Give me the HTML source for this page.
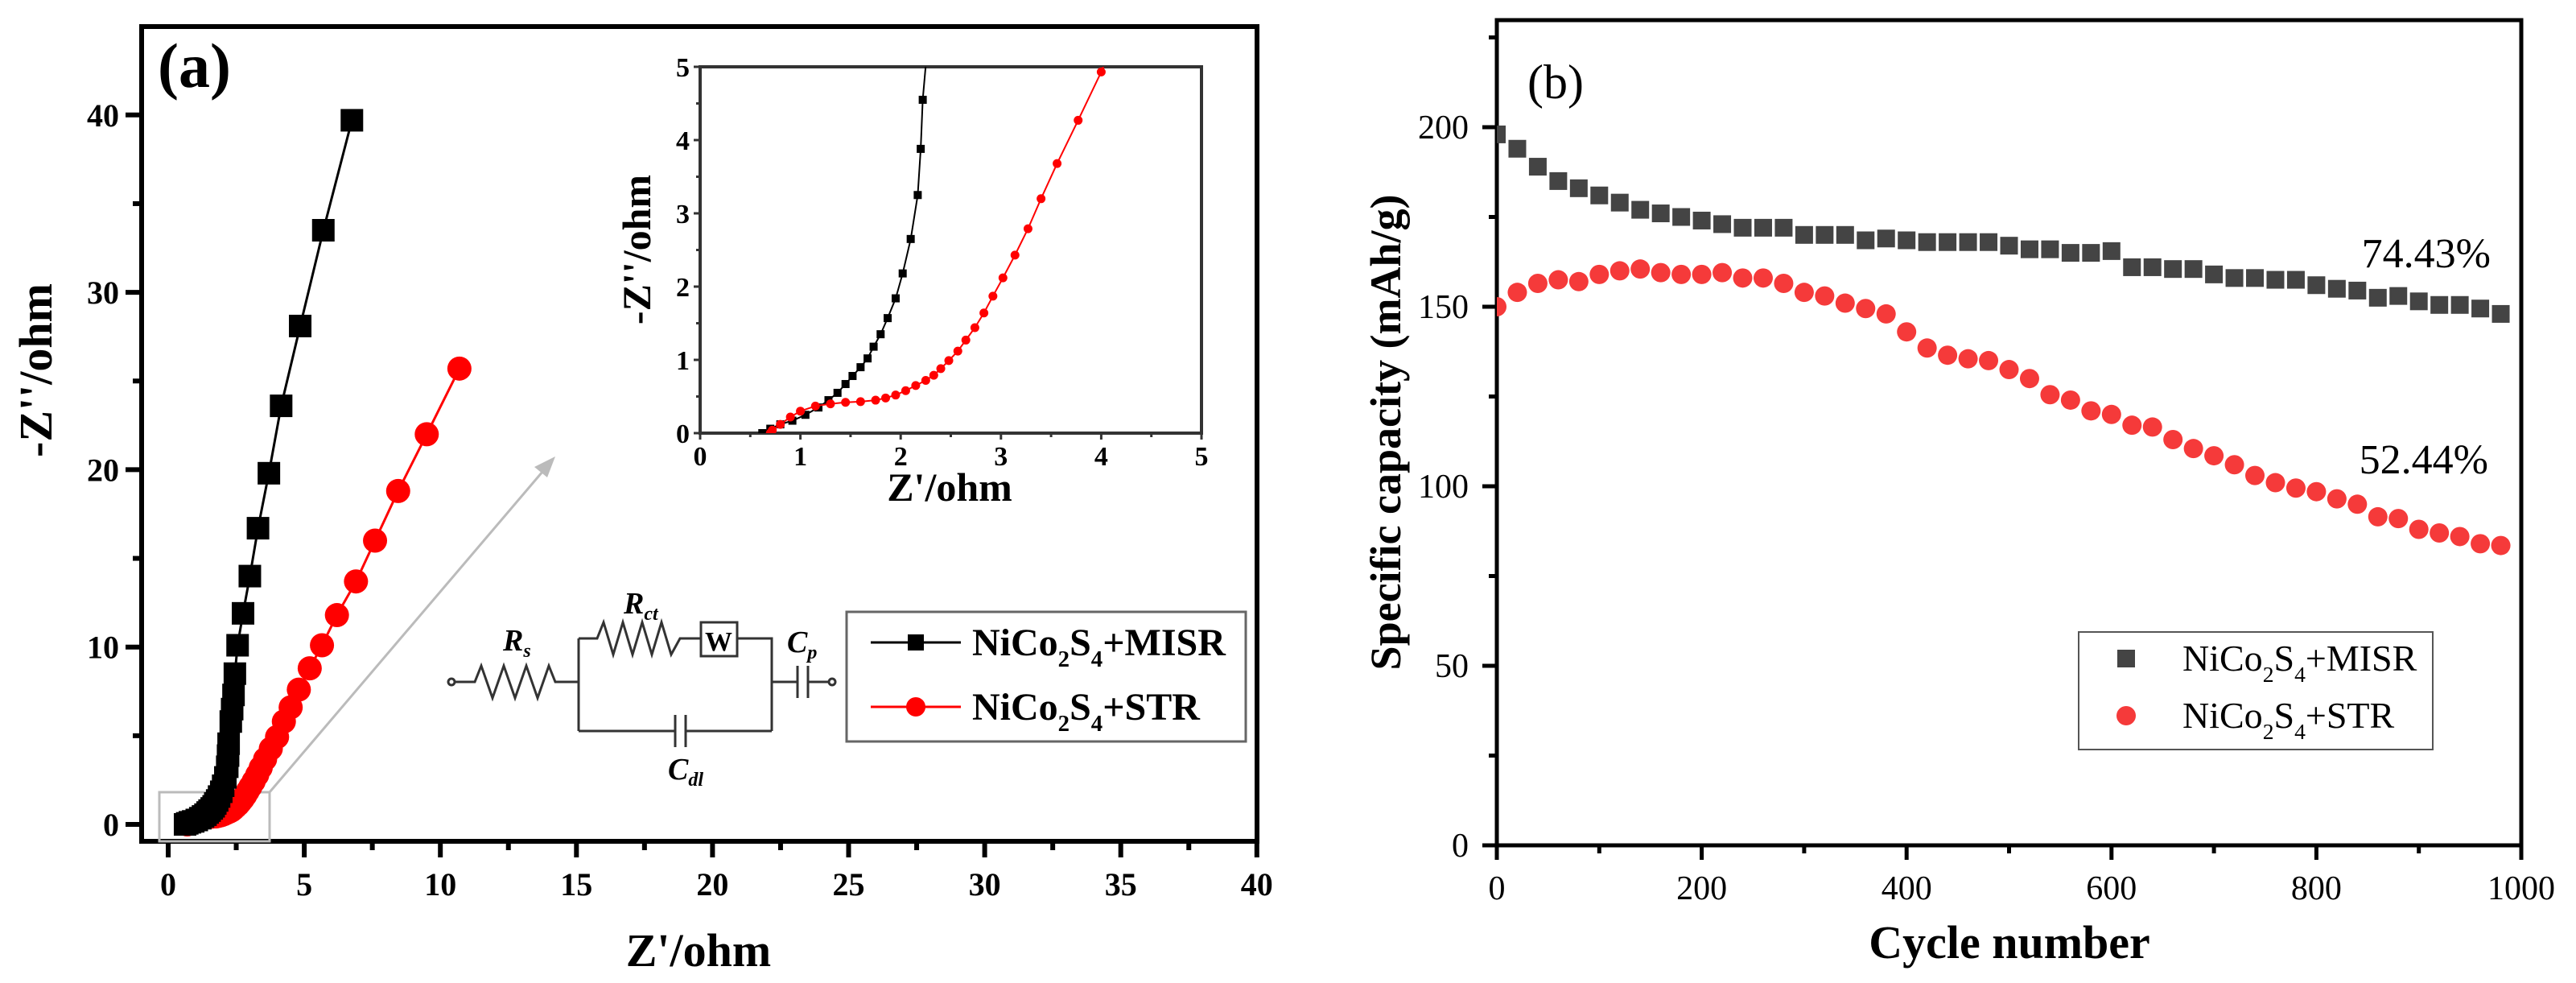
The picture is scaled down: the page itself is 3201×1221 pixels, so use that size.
<!DOCTYPE html>
<html><head><meta charset="utf-8"><style>
html,body{margin:0;padding:0;background:#fff;}
svg{display:block;}
text{font-family:"Liberation Serif",serif;}
</style></head><body>
<svg id="fig" width="3201" height="1221" viewBox="0 0 3201 1221" xmlns="http://www.w3.org/2000/svg">
<defs>
<clipPath id="clipA"><rect x="176" y="33" width="1386" height="1012"/></clipPath>
<clipPath id="clipI"><rect x="870" y="83" width="623" height="455"/></clipPath>
<clipPath id="clipB"><rect x="1860" y="25" width="1273" height="1025"/></clipPath>
</defs>
<g id="panelA"></g>
<g id="panelB"></g>
</svg>
<script>
// ---- Panel A data (Nyquist) ----
const aBlackX=[0.62,0.7,0.8,0.92,1.05,1.18,1.28,1.37,1.45,1.52,1.6,1.67,1.73,1.8,1.87,1.95,2.02,2.1,2.17,2.2,2.22,2.3,2.35,2.4,2.45,2.55,2.75,3.0,3.3,3.7,4.15,4.85,5.7,6.75];
const aBlackY=[0.0,0.06,0.12,0.17,0.25,0.35,0.45,0.55,0.67,0.78,0.9,1.02,1.18,1.35,1.57,1.84,2.18,2.65,3.25,3.88,4.55,5.8,6.5,7.3,8.5,10.1,11.9,14.0,16.7,19.8,23.6,28.1,33.5,39.7];
const aRedX=[0.7,0.72,0.8,0.9,1.0,1.15,1.3,1.45,1.6,1.75,1.85,1.95,2.05,2.15,2.25,2.33,2.4,2.48,2.57,2.65,2.74,2.83,2.92,3.02,3.14,3.27,3.4,3.56,3.77,4.0,4.25,4.5,4.8,5.2,5.65,6.2,6.9,7.6,8.45,9.5,10.7];
const aRedY=[0.0,0.04,0.12,0.22,0.3,0.37,0.4,0.42,0.43,0.45,0.48,0.52,0.58,0.65,0.72,0.79,0.88,0.99,1.12,1.27,1.44,1.64,1.87,2.12,2.43,2.79,3.2,3.68,4.27,4.93,5.8,6.6,7.6,8.8,10.1,11.8,13.7,16.0,18.8,22.0,25.7];
const aXTicks=[0,5,10,15,20,25,30,35,40];
const aYTicks=[0,10,20,30,40];
const iTicks=[0,1,2,3,4,5];
// ---- Panel B data (cycling) ----
const bCycles=[0,20,40,60,80,100,120,140,160,180,200,220,240,260,280,300,320,340,360,380,400,420,440,460,480,500,520,540,560,580,600,620,640,660,680,700,720,740,760,780,800,820,840,860,880,900,920,940,960,980];
const bMISR=[198,194,189,185,183,181,179,177,176,175,174,173,172,172,172,170,170,170,168.5,169,168.5,168,168,168,168,167,166,166,165,165,165.5,161,161,160.5,160.5,159,158,158,157.5,157.5,156,155,154.5,152.5,153,151.5,150.5,150.5,149.5,148];
const bSTR=[150,154,156.5,157.5,157,159,160,160.5,159.5,159,159,159.5,158,158,156.5,154,153,151,149.5,148,143,138.5,136.5,135.5,135,132.5,130,125.5,124,121,120,117,116.5,113,110.5,108.5,106,103,101,99.5,98.5,96.5,95,91.5,91,88,87,86,84,83.5];
const bXTicks=[0,200,400,600,800,1000];
const bYTicks=[0,50,100,150,200];

const NS="http://www.w3.org/2000/svg";
function mk(parent,tag,attrs,txt){const e=document.createElementNS(NS,tag);for(const k in attrs)e.setAttribute(k,attrs[k]);if(txt!==undefined)e.textContent=txt;parent.appendChild(e);return e;}

// axis functions
const ax=x=>209+x*33.82, ay=y=>1024-y*22.03;
const ix=x=>870+x*124.6, iy=y=>538-y*91;
const bx=c=>1860+c*1.273, by=v=>1050-v*4.46;

const A=document.getElementById('panelA');
// frame A
let e=mk(A,'rect',{x:176,y:33,width:1386,height:1012,fill:'none',stroke:'#000','stroke-width':6});


for(let v=0;v<=40;v+=2.5){const major=(v%5===0);
 e=mk(A,'line',{x1:ax(v),x2:ax(v),y1:1045,y2:1045+(major?20:11),stroke:'#000','stroke-width':6});
 
 }
for(let v=0;v<=40;v+=5){const major=(v%10===0);
 e=mk(A,'line',{x1:176,x2:176-(major?20:11),y1:ay(v),y2:ay(v),stroke:'#000','stroke-width':6});
 
 }
aXTicks.forEach(v=>{e=mk(A,'text',{x:ax(v),y:1112,'text-anchor':'middle','font-size':40,'font-weight':'bold'},String(v));
 
 });
aYTicks.forEach(v=>{e=mk(A,'text',{x:148,y:ay(v)+14,'text-anchor':'end','font-size':40,'font-weight':'bold'},String(v));
 
 });
e=mk(A,'text',{x:868,y:1200,'text-anchor':'middle','font-size':58,'font-weight':'bold'},"Z'/ohm");


e=mk(A,'text',{x:0,y:0,transform:'translate(64,460) rotate(-90)','text-anchor':'middle','font-size':58,'font-weight':'bold'},"-Z''/ohm");


e=mk(A,'text',{x:196,y:108,'font-size':78,'font-weight':'bold'},"(a)");


// zoom box and arrow
e=mk(A,'rect',{x:198,y:984,width:137,height:61,fill:'none',stroke:'#bbb','stroke-width':3});


e=mk(A,'line',{x1:335,y1:984,x2:680,y2:579,stroke:'#bbb','stroke-width':3});


e=mk(A,'polygon',{points:'690,567 664,580 680,593',fill:'#bbb'});



const gA=mk(A,'g',{'clip-path':'url(#clipA)'});


function series(g,xs,ys,fx,fy,color,lw,shape,sz,name){
 let pts=xs.map((x,i)=>fx(x).toFixed(1)+','+fy(ys[i]).toFixed(1)).join(' ');
 let l=mk(g,'polyline',{points:pts,fill:'none',stroke:color,'stroke-width':lw});
 
 
 xs.forEach((x,i)=>{let m;
  if(shape==='sq') m=mk(g,'rect',{x:fx(x)-sz/2,y:fy(ys[i])-sz/2,width:sz,height:sz,fill:color});
  else m=mk(g,'circle',{cx:fx(x),cy:fy(ys[i]),r:sz/2,fill:color});
  
  });
}
series(gA,aRedX,aRedY,ax,ay,'#ff0000',3,'ci',30,'str-series');
series(gA,aBlackX,aBlackY,ax,ay,'#000',3,'sq',28,'misr-series');

// inset
const I=mk(A,'g',{});


e=mk(I,'rect',{x:870,y:83,width:623,height:455,fill:'#fff',stroke:'#333','stroke-width':4});


for(let v=0;v<=5;v+=0.5){const major=(Math.abs(v%1)<1e-9);
 e=mk(I,'line',{x1:ix(v),x2:ix(v),y1:538,y2:538+(major?8:5),stroke:'#333','stroke-width':3});
 
 
 e=mk(I,'line',{x1:870,x2:870-(major?8:5),y1:iy(v),y2:iy(v),stroke:'#333','stroke-width':3});
 
 }
iTicks.forEach(v=>{e=mk(I,'text',{x:ix(v),y:578,'text-anchor':'middle','font-size':34,'font-weight':'bold'},String(v));
 
 
 e=mk(I,'text',{x:857,y:iy(v)+12,'text-anchor':'end','font-size':34,'font-weight':'bold'},String(v));
 
 });
e=mk(I,'text',{x:1180,y:622,'text-anchor':'middle','font-size':50,'font-weight':'bold'},"Z'/ohm");


e=mk(I,'text',{x:0,y:0,transform:'translate(808,310) rotate(-90)','text-anchor':'middle','font-size':50,'font-weight':'bold'},"-Z''/ohm");


const gI=mk(I,'g',{'clip-path':'url(#clipI)'});


series(gI,aBlackX,aBlackY,ix,iy,'#000',2,'sq',10,'inset-misr');
series(gI,aRedX,aRedY,ix,iy,'#ff0000',2,'ci',11,'inset-str');

// circuit
const C=mk(A,'g',{fill:'none',stroke:'#333','stroke-width':3});


e=mk(C,'path',{d:'M565,847 H590 L598,827 L612,867 L626,827 L640,867 L654,827 L668,867 L682,827 L690,847 H719 M719,793 V908 M719,793 H742 L750,773 L762,813 L774,773 L786,813 L798,773 L810,813 L822,773 L834,813 L845,793 H871 M916,793 H959 V908 M719,908 H839 M852,908 H959 M959,847 H991 M1004,847 H1030'});


e=mk(C,'rect',{x:871,y:773,width:45,height:42});


e=mk(C,'path',{d:'M839,888 V928 M852,888 V928 M991,827 V867 M1004,827 V867'});


e=mk(C,'circle',{cx:561,cy:847,r:4});


e=mk(C,'circle',{cx:1034,cy:847,r:4});


e=mk(A,'text',{x:893,y:808,'text-anchor':'middle','font-size':34,'font-weight':'bold'},"W");


function lab(x,y,main,sub,name){const t=mk(A,'text',{x:x,y:y,'font-size':38,'font-style':'italic','font-weight':'bold'});
 mk(t,'tspan',{},main);mk(t,'tspan',{'font-size':24,dy:8},sub);
 
 }
lab(625,808,'R','s','rs-label');
lab(775,762,'R','ct','rct-label');
lab(978,810,'C','p','cp-label');
lab(830,968,'C','dl','cdl-label');

// legend A
const LA=mk(A,'g',{});


e=mk(LA,'rect',{x:1052,y:760,width:496,height:161,fill:'#fff',stroke:'#666','stroke-width':3});


function legRow(g,y,color,shape,label,bold,x1,x2,tx,fs,sz,name){
 const r=mk(g,'g',{});
 
 
 if(x1!==null) mk(r,'line',{x1:x1,x2:x2,y1:y,y2:y,stroke:color,'stroke-width':3});
 const cx=x1!==null?(x1+x2)/2:x2;
 if(shape==='sq') mk(r,'rect',{x:cx-sz/2,y:y-sz/2,width:sz,height:sz,fill:color});
 else mk(r,'circle',{cx:cx,cy:y,r:sz/2,fill:color});
 const t=mk(r,'text',{x:tx,y:y+fs*0.33,'font-size':fs,'font-weight':bold?'bold':'normal'});
 mk(t,'tspan',{},'NiCo');mk(t,'tspan',{'font-size':fs*0.6,dy:fs*0.3},'2');
 mk(t,'tspan',{dy:-fs*0.3},'S');mk(t,'tspan',{'font-size':fs*0.6,dy:fs*0.3},'4');
 mk(t,'tspan',{dy:-fs*0.3},label);
}
legRow(LA,798,'#000','sq','+MISR',true,1082,1194,1208,48,20,'legend-entry-misr');
legRow(LA,878,'#ff0000','ci','+STR',true,1082,1194,1208,48,24,'legend-entry-str');

// ---- Panel B ----
const B=document.getElementById('panelB');
e=mk(B,'rect',{x:1860,y:25,width:1273,height:1025,fill:'none',stroke:'#000','stroke-width':5});


for(let c=0;c<=1000;c+=100){const major=(c%200===0);
 e=mk(B,'line',{x1:bx(c),x2:bx(c),y1:1050,y2:1050+(major?18:10),stroke:'#000','stroke-width':5});
 
 }
for(let v=0;v<=225;v+=25){const major=(v%50===0);
 e=mk(B,'line',{x1:1860,x2:1860-(major?18:10),y1:by(v),y2:by(v),stroke:'#000','stroke-width':5});
 
 }
bXTicks.forEach(v=>{e=mk(B,'text',{x:bx(v),y:1117,'text-anchor':'middle','font-size':42},String(v));
 
 });
bYTicks.forEach(v=>{e=mk(B,'text',{x:1825,y:by(v)+14,'text-anchor':'end','font-size':42},String(v));
 
 });
e=mk(B,'text',{x:2497,y:1190,'text-anchor':'middle','font-size':58,'font-weight':'bold'},"Cycle number");


e=mk(B,'text',{x:0,y:0,transform:'translate(1740,537) rotate(-90)','text-anchor':'middle','font-size':54,'font-weight':'bold'},"Specific capacity (mAh/g)");


e=mk(B,'text',{x:1898,y:122,'font-size':60},"(b)");


e=mk(B,'text',{x:3095,y:332,'text-anchor':'end','font-size':52},"74.43%");


e=mk(B,'text',{x:3092,y:588,'text-anchor':'end','font-size':52},"52.44%");


const gB=mk(B,'g',{'clip-path':'url(#clipB)'});


bCycles.forEach((c,i)=>{
 let m=mk(gB,'rect',{x:bx(c)-11,y:by(bMISR[i])-11,width:22,height:22,fill:'#444'});
 
 });
bCycles.forEach((c,i)=>{
 let m=mk(gB,'circle',{cx:bx(c),cy:by(bSTR[i]),r:12,fill:'#f53a3a'});
 
 });
const LB=mk(B,'g',{});


e=mk(LB,'rect',{x:2583,y:785,width:440,height:146,fill:'#fff',stroke:'#555','stroke-width':2});


legRow(LB,818,'#444','sq','+MISR',false,null,2642,2712,46,22,'legend-entry-misr');
legRow(LB,889,'#f53a3a','ci','+STR',false,null,2642,2712,46,24,'legend-entry-str');
</script>
</body></html>
